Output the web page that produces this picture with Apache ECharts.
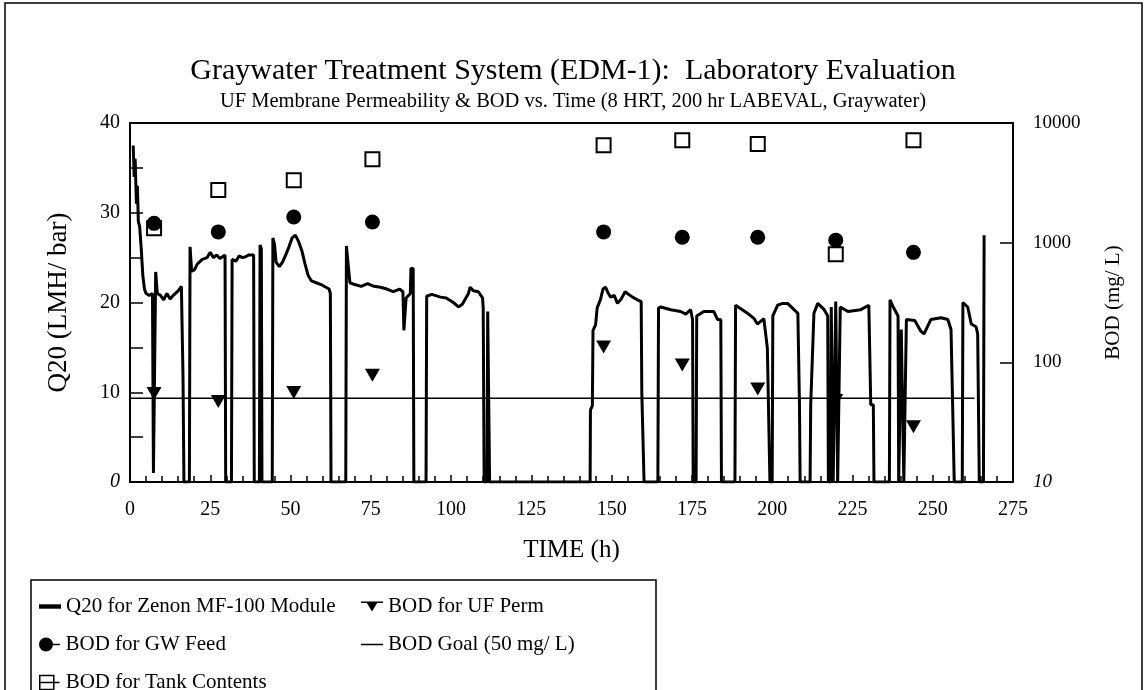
<!DOCTYPE html>
<html>
<head>
<meta charset="utf-8">
<title>Graywater Treatment System (EDM-1)</title>
<script src="https://cdn.jsdelivr.net/npm/echarts@6/dist/echarts.min.js"></script>
<style>
    html,body{margin:0;padding:0;background:#fff;}
    #container{width:1146px;height:690px;}
</style>
</head>
<body>
<div id="container"></div>
<script>
// Q20 trace (time in h, value in LMH/bar)
var qTime = [1.0,1.3,1.6,2.0,2.3,2.6,3.0,3.5,4.0,4.5,5.0,6.0,7.0,7.2,7.3,7.8,8.0,8.5,9.5,10.5,11.5,12.5,13.5,15.0,16.0,16.3,16.5,16.8,18.5,18.7,19.2,20.0,21.0,22.5,24.0,25.0,26.0,27.0,28.0,29.6,29.8,31.6,31.8,33.0,34.0,35.0,36.0,37.0,38.5,38.7,40.3,40.5,40.9,41.1,44.3,44.5,45.0,45.5,46.5,47.5,48.5,49.5,50.5,51.5,52.5,53.5,54.5,55.5,56.5,58.0,59.5,61.0,62.0,62.4,62.6,67.2,67.4,68.0,68.5,70.0,72.0,74.0,76.0,78.0,80.0,82.0,84.0,85.0,85.3,85.8,86.0,87.3,87.5,88.2,88.4,92.2,92.4,94.0,96.7,98.5,100.7,102.3,103.5,105.4,105.9,107.0,108.5,109.8,110.0,110.3,111.2,111.4,111.8,112.0,143.3,143.4,144.0,144.2,145.0,145.5,146.5,147.3,148.1,149.0,149.7,150.8,151.8,153.0,154.2,154.9,156.5,158.0,159.2,159.4,160.0,160.1,164.4,164.6,165.3,168.4,171.5,173.1,174.6,175.2,175.4,176.3,176.5,178.7,181.8,183.0,184.0,184.2,188.4,188.6,192.3,194.4,195.4,197.4,198.5,199.1,199.3,200.0,200.2,201.7,203.3,204.8,206.8,208.0,208.5,208.7,211.8,212.0,213.0,214.2,216.2,217.3,217.5,218.2,218.4,218.8,219.0,219.6,219.8,220.2,220.4,221.0,221.2,223.6,227.6,230.1,230.7,231.5,231.7,236.5,236.7,237.7,239.2,239.4,240.0,240.2,240.8,241.0,241.6,241.8,244.4,246.3,247.3,249.4,252.6,254.7,255.7,256.2,256.5,256.7,259.2,259.4,260.9,262.0,263.5,264.0,264.5,264.7,265.8,266.0];
var qVal  = [37.5,34,36,31,33,29,28.5,26,23,21.5,21,20.8,21,21,1,1,23.4,21,20.8,20.3,21,20.4,20.8,21.3,21.8,22,12,0,0,26.2,23.5,23.6,24.3,24.8,25,25.6,25,25.3,24.9,25.3,0,0,24.8,24.6,25.2,25,25.1,25.3,25.3,0,0,26.4,26,0,0,27.2,26.5,24.5,24,24.5,25.3,26.2,27.2,27.5,26.8,25.8,24.3,23,22.4,22.2,22,21.7,21.5,21,0,0,26.3,24,22.2,22,21.8,22.1,21.8,21.7,21.5,21.2,21.5,21.2,16.9,16.9,20.5,21,23.8,23.8,0,0,20.7,20.9,20.6,20.5,20,19.5,19.8,21,21.7,21.3,21.2,20.5,19.4,0,0,19,19,0,0,8,8.5,16.9,17.5,19.4,20.3,21.5,21.7,21,20.6,20.8,19.9,20.4,21.2,21,20.6,20.3,20.1,9.9,9.9,0,0,19.4,19.5,19.2,19,18.7,19.2,18.1,0,0,18.5,19,19,18.1,18.1,0,0,19.7,18.8,18.2,17.6,18.2,14.9,14.9,0,0,18.5,19.7,19.9,19.9,19.2,18.8,8.6,0,0,8.6,18.8,19.9,19.2,18.5,0,0,19.5,19.5,0,0,20.1,20.1,0,0,19.5,19,19.2,19.7,8.6,8.6,0,0,20.3,19.5,18.5,0,0,17,17,0,0,18.1,18,16.8,16.5,18.1,18.3,18.1,17,8.6,8.6,0,0,20,19.5,17.6,17.3,16.5,0,0,0,27.5];

// BOD samples (mg/L), log axis
var bodTime = [7.5, 27.5, 51, 75.5, 147.5, 172, 195.5, 219.8, 244];
var bodFeed = [1450, 1230, 1640, 1490, 1230, 1110, 1110, 1050, 830];
var bodTank = [1320, 2760, 3330, 4990, 6530, 7190, 6670, 800, 7190];
var bodPerm = [55, 47, 56, 78, 134, 95, 60, 48, 29];

// BOD goal line
var goalTime = [0, 263];
var goalVal = [50, 50];

var xTicks = [0, 275, 25];
var yLeftTicks = [0, 40, 10];
var yRightRange = [10, 10000];

var FONT = '"Liberation Serif", "DejaVu Serif", serif';
var triPath = 'path://M0,0 L10,0 L5,8.66 Z';

function pairs(xs, ys){
    var out = [];
    for (var i = 0; i < xs.length; i++){
        out.push([xs[i], ys[i]]);
    }
    return out;
}

// one legend block per row so the two columns line up like the original
function legendRow(left, top, name, icon, style){
    return {
        left: left, top: top,
        itemWidth: 22, itemHeight: 14, itemGap: 8,
        selectedMode: false,
        textStyle: {fontFamily: FONT, fontSize: 21, color: '#000'},
        data: [{name: name, icon: icon, itemStyle: style}]
    };
}

var dom = document.getElementById("container");
var myChart = echarts.init(dom, null, {renderer: 'canvas'});

var option = {
    backgroundColor: '#ffffff',
    animation: false,
    title: {
        text: 'Graywater Treatment System (EDM-1):  Laboratory Evaluation',
        subtext: 'UF Membrane Permeability & BOD vs. Time (8 HRT, 200 hr LABEVAL, Graywater)',
        left: 'center',
        top: 51,
        itemGap: 5,
        textStyle: {fontFamily: FONT, fontSize: 30, fontWeight: 'normal', color: '#000'},
        subtextStyle: {fontFamily: FONT, fontSize: 20.5, color: '#000'}
    },
    grid: {
        left: 130, right: 133, top: 123, bottom: 208,
        show: true, borderColor: '#000', borderWidth: 2,
        outerBoundsMode: 'none'
    },
    legend: [
        legendRow(34, 591, 'Q20 for Zenon MF-100 Module', 'path://M0,0 H20 V4 H0 Z', {color: '#000'}),
        legendRow(34, 629, 'BOD for GW Feed', 'path://M0,6 A6,6 0 1,1 12,6 A6,6 0 1,1 0,6 Z M12,5.3 H18 V6.7 H12 Z', {color: '#000'}),
        legendRow(34, 667, 'BOD for Tank Contents', 'path://M1,1 H13 V13 H1 Z M1,7 H18', {color: '#fff', borderColor: '#000', borderWidth: 1.5}),
        legendRow(356, 591, 'BOD for UF Perm', 'path://M0,0 H22 V1.6 H0 Z M5,0 L17,0 L11,10 Z', {color: '#000'}),
        legendRow(356, 629, 'BOD Goal (50 mg/ L)', 'path://M0,0 H20 V1.4 H0 Z', {color: '#000'})
    ],
    graphic: [{
        // outer frame
        type: 'rect', silent: true,
        shape: {x: 5, y: 3, width: 1137, height: 700},
        style: {fill: 'none', stroke: '#000', lineWidth: 1.5}
    }, {
        // legend box
        type: 'rect', silent: true,
        shape: {x: 31, y: 580, width: 625, height: 120},
        style: {fill: 'none', stroke: '#000', lineWidth: 1.5}
    }],
    xAxis: {
        type: 'value',
        min: xTicks[0], max: xTicks[1], interval: xTicks[2],
        name: 'TIME (h)', nameLocation: 'middle', nameGap: 56,
        nameTextStyle: {fontFamily: FONT, fontSize: 25, color: '#000'},
        axisLine: {show: true, lineStyle: {color: '#000', width: 2}},
        axisTick: {show: true, inside: true, length: 7, lineStyle: {color: '#000', width: 1.5}},
        minorTick: {show: true, splitNumber: 5, length: 6, lineStyle: {color: '#000', width: 1.5}},
        splitLine: {show: false},
        axisLabel: {fontFamily: FONT, fontSize: 20, color: '#000', margin: 18}
    },
    yAxis: [{
        type: 'value', position: 'left',
        min: yLeftTicks[0], max: yLeftTicks[1], interval: yLeftTicks[2],
        name: 'Q20 (LMH/ bar)', nameLocation: 'middle', nameGap: 58,
        nameTextStyle: {fontFamily: FONT, fontSize: 27, color: '#000'},
        axisLine: {show: true, lineStyle: {color: '#000', width: 2}},
        axisTick: {show: true, inside: true, length: 13, lineStyle: {color: '#000', width: 1.5}},
        minorTick: {show: true, splitNumber: 2, length: 13, lineStyle: {color: '#000', width: 1.5}},
        splitLine: {show: false},
        axisLabel: {
            fontFamily: FONT, fontSize: 20, color: '#000', margin: 10,
            formatter: function(v){ return v === 0 ? '{it|0}' : String(v); },
            rich: {it: {fontFamily: FONT, fontSize: 20, fontStyle: 'italic', color: '#000'}}
        }
    }, {
        type: 'log', logBase: 10, position: 'right',
        min: yRightRange[0], max: yRightRange[1],
        name: 'BOD (mg/ L)', nameLocation: 'middle', nameGap: 90,
        nameTextStyle: {fontFamily: FONT, fontSize: 21, color: '#000'},
        axisLine: {show: true, lineStyle: {color: '#000', width: 2}},
        axisTick: {show: true, inside: true, length: 13, lineStyle: {color: '#000', width: 1.5}},
        splitLine: {show: false},
        axisLabel: {
            fontFamily: FONT, fontSize: 19, color: '#000', margin: 20,
            formatter: function(v){ return v === 10 ? '{it|10}' : String(v); },
            rich: {it: {fontFamily: FONT, fontSize: 19, fontStyle: 'italic', color: '#000'}}
        }
    }],
    series: [{
        name: 'Q20 for Zenon MF-100 Module',
        type: 'line', yAxisIndex: 0,
        showSymbol: false, symbol: 'none',
        lineStyle: {color: '#000', width: 3},
        itemStyle: {color: '#000'},
        z: 2,
        data: pairs(qTime, qVal)
    }, {
        name: 'BOD Goal (50 mg/ L)',
        type: 'line', yAxisIndex: 1,
        showSymbol: false, symbol: 'none',
        lineStyle: {color: '#000', width: 1.5},
        itemStyle: {color: '#000'},
        z: 2,
        data: pairs(goalTime, goalVal)
    }, {
        name: 'BOD for GW Feed',
        type: 'scatter', yAxisIndex: 1,
        symbol: 'circle', symbolSize: 15,
        itemStyle: {color: '#000', opacity: 1},
        z: 4,
        data: pairs(bodTime, bodFeed)
    }, {
        name: 'BOD for Tank Contents',
        type: 'scatter', yAxisIndex: 1,
        symbol: 'rect', symbolSize: 14,
        itemStyle: {color: '#fff', borderColor: '#000', borderWidth: 2, opacity: 1},
        z: 3,
        data: pairs(bodTime, bodTank)
    }, {
        name: 'BOD for UF Perm',
        type: 'scatter', yAxisIndex: 1,
        symbol: triPath, symbolSize: [15, 13], symbolKeepAspect: false,
        itemStyle: {color: '#000', opacity: 1},
        z: 4,
        data: pairs(bodTime, bodPerm)
    }]
};

if (option && typeof option === "object") {
    myChart.setOption(option, true);
}
</script>
</body>
</html>
